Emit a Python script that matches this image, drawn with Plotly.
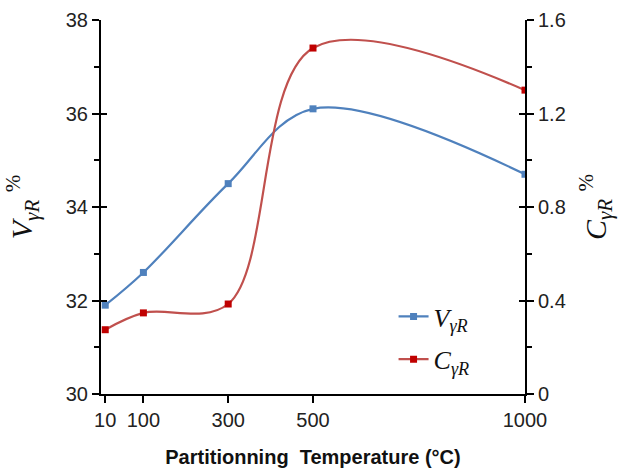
import plotly.graph_objects as go

temps = [10, 100, 300, 500, 1000]
v_gamma = [31.9, 32.6, 34.5, 36.1, 34.7]
c_gamma = [0.275, 0.347, 0.385, 1.48, 1.30]
x_ticks = [10, 100, 300, 500, 1000]
left_ticks = [30, 32, 34, 36, 38]
right_ticks = [0, 0.4, 0.8, 1.2, 1.6]

BLUE = "#4F81BD"
RED_LINE = "#C0504D"
RED_MK = "#C00000"
FONT = "Liberation Sans, Arial, sans-serif"
SERIF = "Liberation Serif, DejaVu Serif, serif"

fig = go.Figure()
fig.add_trace(go.Scatter(
    x=temps, y=v_gamma, mode="lines+markers",
    name="<i>V</i><sub><i>γR</i></sub>", legendgroup="v",
    line=dict(color=BLUE, width=2.2, shape="spline", smoothing=1.0),
    marker=dict(symbol="square", size=7, color=BLUE),
    yaxis="y"))
fig.add_trace(go.Scatter(
    x=temps, y=c_gamma, mode="lines+markers",
    name="<i>C</i><sub><i>γR</i></sub>", legendgroup="c",
    line=dict(color=RED_LINE, width=2.2, shape="spline", smoothing=1.0),
    marker=dict(symbol="square", size=7, color=RED_MK),
    yaxis="y2"))
# invisible helpers for inward half of crossing ticks
fig.add_trace(go.Scatter(x=temps, y=v_gamma, mode="lines", opacity=0,
                         showlegend=False, hoverinfo="skip", yaxis="y3"))
fig.add_trace(go.Scatter(x=temps, y=c_gamma, mode="lines", opacity=0,
                         showlegend=False, hoverinfo="skip", yaxis="y4"))

fig.update_layout(
    width=629, height=471,
    margin=dict(l=101, r=104, t=20, b=77),
    paper_bgcolor="white", plot_bgcolor="white",
    font=dict(family=FONT, color="#222"),
    showlegend=True,
    legend=dict(x=0.69, y=0.27, xanchor="left", yanchor="top",
                bgcolor="rgba(0,0,0,0)", font=dict(family=SERIF, size=26, color="#111"),
                itemwidth=30, tracegroupgap=6),
    xaxis=dict(range=[0, 1000], tickvals=x_ticks, ticktext=[str(t) for t in x_ticks],
               automargin=False,
               showgrid=False, zeroline=False, showline=True, linecolor="black", linewidth=2,
               ticks="outside", ticklen=7, tickwidth=2, tickcolor="black",
               tickfont=dict(size=20, family=FONT, color="#222"),
               title=dict(text="<b>Partitionning  Temperature (°C)</b>",
                          font=dict(size=20, family=FONT, color="#111"), standoff=20)),
    yaxis=dict(range=[30, 38], tickvals=left_ticks, showgrid=False, zeroline=False,
               automargin=False,
               showline=True, linecolor="black", linewidth=2,
               ticks="outside", ticklen=7, tickwidth=2, tickcolor="black",
               minor=dict(dtick=1, ticks="outside", ticklen=5, tickwidth=2, tickcolor="black"),
               tickfont=dict(size=20, family=FONT, color="#222"),
               title=dict(text="<i>V</i><sub><i>γR</i></sub> <sup>%</sup>",
                          font=dict(size=30, family=SERIF, color="#111"), standoff=24)),
    yaxis2=dict(range=[0, 1.6], tickvals=right_ticks, ticktext=["0", "0.4", "0.8", "1.2", "1.6"],
                automargin=False,
                overlaying="y", side="right", showgrid=False, zeroline=False,
                showline=True, linecolor="black", linewidth=2,
                ticks="outside", ticklen=7, tickwidth=2, tickcolor="black",
                minor=dict(dtick=0.2, ticks="outside", ticklen=5, tickwidth=2, tickcolor="black"),
                tickfont=dict(size=20, family=FONT, color="#222"),
                title=dict(text="<i>C</i><sub><i>γR</i></sub> <sup>%</sup>",
                           font=dict(size=30, family=SERIF, color="#111"), standoff=20)),
    yaxis3=dict(range=[30, 38], tickvals=left_ticks, overlaying="y", side="left",
                automargin=False,
                showgrid=False, zeroline=False, showline=False, showticklabels=False,
                ticks="inside", ticklen=6, tickwidth=2, tickcolor="black"),
    yaxis4=dict(range=[0, 1.6], tickvals=right_ticks, overlaying="y", side="right",
                automargin=False,
                showgrid=False, zeroline=False, showline=False, showticklabels=False,
                ticks="inside", ticklen=6, tickwidth=2, tickcolor="black"),
)

fig.write_html("out.html")
